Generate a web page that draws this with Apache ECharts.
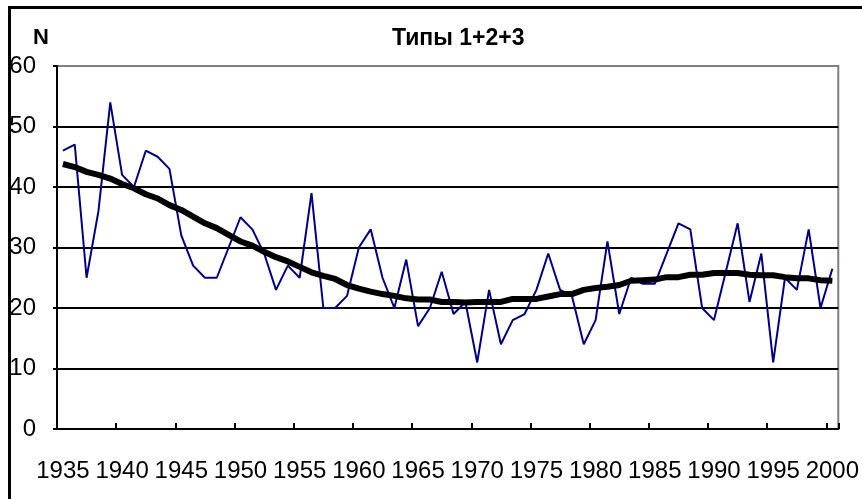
<!DOCTYPE html>
<html>
<head>
<meta charset="utf-8">
<script src="https://cdn.jsdelivr.net/npm/echarts@6/dist/echarts.min.js"></script>
<style>
  html, body { margin: 0; padding: 0; background: #fff; }
  #chart { width: 862px; height: 499px; }
</style>
</head>
<body>
<div id="chart"></div>
<script>
const FONT = "'Liberation Sans', Arial, sans-serif";

// годы 1935..2000
const years = ['1935', '1936', '1937', '1938', '1939', '1940', '1941', '1942', '1943', '1944',
  '1945', '1946', '1947', '1948', '1949', '1950', '1951', '1952', '1953', '1954',
  '1955', '1956', '1957', '1958', '1959', '1960', '1961', '1962', '1963', '1964',
  '1965', '1966', '1967', '1968', '1969', '1970', '1971', '1972', '1973', '1974',
  '1975', '1976', '1977', '1978', '1979', '1980', '1981', '1982', '1983', '1984',
  '1985', '1986', '1987', '1988', '1989', '1990', '1991', '1992', '1993', '1994',
  '1995', '1996', '1997', '1998', '1999', '2000'];

// число случаев по годам (синяя линия)
const counts = [46, 47, 25, 36, 54, 42, 40, 46, 45, 43,
  32, 27, 25, 25, 30, 35, 33, 29, 23, 27,
  25, 39, 20, 20, 22, 30, 33, 25, 20, 28,
  17, 20, 26, 19, 21, 11, 23, 14, 18, 19,
  23, 29, 23, 22, 14, 18, 31, 19, 25, 24,
  24, 29, 34, 33, 20, 18, 26, 34, 21, 29,
  11, 25, 23, 33, 20, 26.5];

// сглаженный тренд (толстая чёрная линия)
const trend = [43.8, 43.3, 42.5, 42.0, 41.4, 40.5, 39.8, 38.8, 38.1, 37.0,
  36.2, 35.1, 34.0, 33.2, 32.1, 31.0, 30.3, 29.3, 28.4, 27.7,
  26.8, 25.9, 25.3, 24.8, 23.8, 23.2, 22.7, 22.3, 22.0, 21.6,
  21.4, 21.4, 21.0, 21.0, 20.9, 21.0, 21.0, 21.0, 21.5, 21.5,
  21.5, 21.9, 22.3, 22.3, 23.0, 23.3, 23.5, 23.8, 24.5, 24.6,
  24.7, 25.1, 25.1, 25.5, 25.5, 25.8, 25.8, 25.8, 25.5, 25.4,
  25.4, 25.1, 24.9, 24.9, 24.6, 24.5];

const yTicks = [0, 60, 10]; // min, max, interval

let chart = echarts.init(document.getElementById('chart'), null, { renderer: 'canvas' });

let option = {
  animation: false,
  backgroundColor: '#fff',
  title: [
    {
      text: 'Типы 1+2+3',
      left: 387,
      top: 22,
      textStyle: { fontFamily: FONT, fontSize: 23, fontWeight: 'bold', color: '#000' }
    },
    {
      text: 'N',
      left: 28,
      top: 22,
      textStyle: { fontFamily: FONT, fontSize: 22, fontWeight: 'bold', color: '#000' }
    }
  ],
  graphic: [
    {
      // внешняя рамка
      type: 'rect',
      left: 7,
      top: 5,
      shape: { x: 0, y: 0, width: 870, height: 510 },
      style: { fill: 'none', stroke: '#000', lineWidth: 3 },
      silent: true
    }
  ],
  grid: {
    left: 57,
    right: 17,
    top: 66,
    bottom: 70,
    show: true,
    borderColor: '#808080',
    borderWidth: 2
  },
  xAxis: {
    type: 'category',
    data: years,
    boundaryGap: true,
    axisLine: { lineStyle: { color: '#000', width: 2 } },
    axisTick: { show: true, inside: true, length: 6, interval: 4, lineStyle: { color: '#000', width: 2 } },
    axisLabel: { interval: 4, margin: 30, color: '#000', fontFamily: FONT, fontSize: 24 },
    splitLine: { show: false }
  },
  yAxis: {
    type: 'value',
    min: yTicks[0],
    max: yTicks[1],
    interval: yTicks[2],
    axisLine: { show: true, lineStyle: { color: '#000', width: 2 } },
    axisTick: { show: true, length: 4, lineStyle: { color: '#000', width: 2 } },
    axisLabel: { margin: 21, color: '#000', fontFamily: FONT, fontSize: 24 },
    splitLine: {
      show: true,
      lineStyle: { color: ['#000', '#000', '#000', '#000', '#000', '#000', '#808080'], width: 2 }
    }
  },
  series: [
    {
      name: 'N',
      type: 'line',
      data: counts,
      symbol: 'none',
      lineStyle: { color: '#000080', width: 2 },
      z: 2
    },
    {
      name: 'trend',
      type: 'line',
      data: trend,
      symbol: 'none',
      lineStyle: { color: '#000', width: 6 },
      z: 3
    }
  ]
};

chart.setOption(option);
</script>
</body>
</html>
